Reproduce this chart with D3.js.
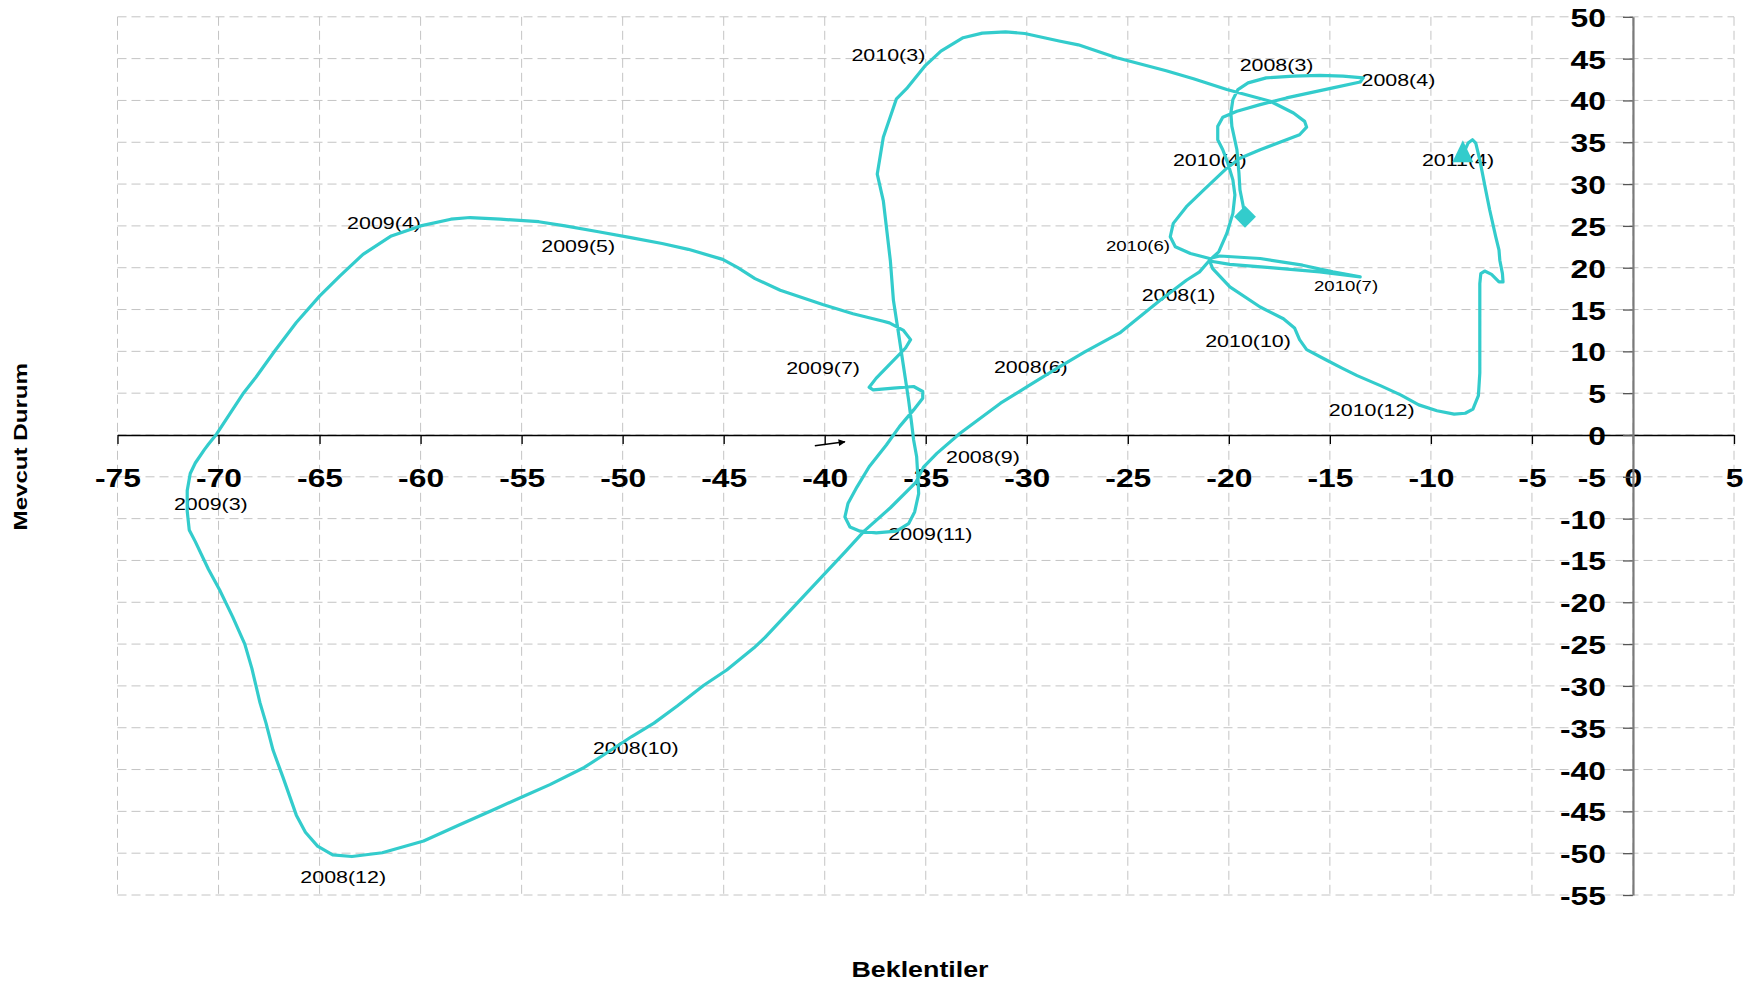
<!DOCTYPE html>
<html>
<head>
<meta charset="utf-8">
<script src="https://cdn.jsdelivr.net/npm/d3@7"></script>
<style>
  html, body { margin: 0; padding: 0; background: #ffffff; }
  svg { display: block; }
</style>
</head>
<body>
<svg id="chart" width="1753" height="986"></svg>
<script>
// Axis ticks
const xTickValues = d3.range(-75, 6, 5);
const yTickValues = d3.range(-55, 51, 5);

// Path through the months: x = Beklentiler, y = Mevcut Durum
const beklentiler = [
  -19.2, -19.3, -19.45, -19.5, -19.6, -19.85, -19.9, -19.8, -19.55, -19.05,
  -18.15, -16.8, -15.5, -14.35, -13.35, -13.5, -14.85, -16.0, -17.15, -18.45,
  -19.6, -20.3, -20.55, -20.55, -20.3, -20.05, -19.8, -19.7, -19.8, -20.1,
  -20.5, -20.95, -21.45, -22.1, -23.4, -25.4, -27.15, -28.55, -29.9, -31.3,
  -33.3, -34.45, -35.1, -35.5, -36.75, -38.05, -39.0, -39.95, -40.9, -42.0,
  -42.95, -43.5, -44.85, -46.0, -47.3, -48.45, -49.55, -51.1, -51.9, -53.6,
  -54.9, -56.25, -58.15, -59.85, -61.9, -63.4, -64.35, -65.1, -65.7, -66.15,
  -66.8, -67.3, -67.65, -67.95, -68.35, -68.7, -69.3, -69.95, -70.5, -71.15,
  -71.45, -71.55, -71.55, -71.4, -71.15, -70.7, -70.5, -70.1, -69.45, -68.8,
  -68.15, -67.2, -66.15, -65.0, -64.0, -62.85, -61.45, -60.0, -58.5, -57.55,
  -56.05, -54.15, -52.85, -51.2, -49.6, -48.05, -46.75, -45.05, -44.3, -43.45,
  -42.2, -40.1, -38.6, -37.1, -36.8, -36.1, -35.75, -36.0, -36.8, -37.45,
  -37.8, -37.6, -36.6, -35.6, -35.15, -35.15, -35.6, -36.3, -36.95, -37.8,
  -38.4, -38.85, -39.0, -38.75, -38.25, -37.45, -36.45, -35.85, -35.55, -35.35,
  -35.4, -35.45, -35.6, -35.7, -35.85, -36.1, -36.35, -36.6, -36.75, -37.1,
  -37.4, -37.1, -36.45, -35.95, -35.05, -34.25, -33.15, -32.2, -31.05, -30.1,
  -28.4, -27.45, -25.55, -23.1, -21.75, -20.1, -17.95, -16.8, -16.25, -16.15,
  -16.5, -17.15, -18.45, -19.45, -20.1, -21.2, -22.1, -22.75, -22.9, -22.65,
  -21.9, -20.95, -20.45, -18.45, -16.35, -14.85, -13.5, -15.5, -17.95, -19.95,
  -20.95, -20.8, -19.95, -18.45, -17.3, -16.75, -16.5, -16.15, -15.2, -14.4,
  -13.65, -12.5, -11.5, -10.6, -9.7, -8.85, -8.3, -7.92, -7.65, -7.58,
  -7.58, -7.58, -7.53, -7.34, -7.0, -6.63, -6.43, -6.46, -6.59, -6.63,
  -6.79, -7.09, -7.29, -7.58, -7.78, -7.94, -8.16, -8.42
];
const mevcutDurum = [
  26.1, 27.5, 29.3, 31.3, 34.1, 36.9, 38.5, 40.1, 41.3, 42.1,
  42.7, 42.9, 43.0, 42.9, 42.7, 42.2, 41.5, 40.9, 40.3, 39.5,
  38.7, 38.0, 36.9, 35.3, 34.1, 32.5, 30.5, 28.7, 26.5, 24.1,
  21.9, 20.9, 19.5, 18.5, 16.1, 12.2, 9.9, 7.9, 5.9, 3.8,
  0.2, -2.2, -3.8, -5.7, -8.7, -11.5, -14.0, -16.45, -18.9, -21.75,
  -24.2, -25.45, -28.1, -29.95, -32.4, -34.45, -36.05, -38.5, -39.75, -41.8,
  -43.2, -44.65, -46.7, -48.55, -49.95, -50.4, -50.2, -49.15, -47.5, -45.45,
  -41.0, -37.7, -34.45, -32.0, -27.9, -25.0, -21.75, -18.5, -16.05, -12.75,
  -11.35, -9.1, -6.65, -4.6, -3.35, -1.75, -1.1, 0.1, 2.5, 4.9,
  6.9, 10.1, 13.45, 16.6, 19.0, 21.6, 23.8, 25.0, 25.8, 26.0,
  25.8, 25.5, 25.0, 24.3, 23.6, 22.9, 22.2, 21.0, 20.0, 18.7,
  17.3, 15.6, 14.5, 13.6, 13.4, 12.5, 11.4, 10.4, 8.4, 6.8,
  5.7, 5.4, 5.6, 5.8, 5.2, 4.4, 3.0, 1.0, -1.2, -3.8,
  -6.2, -8.2, -9.8, -11.0, -11.5, -11.7, -11.5, -10.6, -9.2, -7.0,
  -4.6, -2.6, -0.6, 1.4, 4.2, 8.2, 12.2, 16.1, 20.8, 28.0,
  31.2, 35.6, 40.2, 41.4, 44.1, 45.9, 47.5, 48.05, 48.2, 48.0,
  47.1, 46.65, 45.1, 43.55, 42.6, 41.3, 39.9, 38.5, 37.5, 36.8,
  35.9, 35.3, 34.1, 33.1, 31.9, 29.4, 27.3, 25.3, 23.7, 22.5,
  21.7, 21.1, 21.4, 21.1, 20.3, 19.5, 18.9, 19.5, 20.0, 20.4,
  20.8, 19.9, 17.7, 15.3, 13.9, 12.8, 11.4, 10.2, 9.0, 8.0,
  7.1, 5.9, 4.8, 3.6, 2.9, 2.5, 2.6, 3.1, 4.7, 7.4,
  13.7, 18.1, 19.3, 19.6, 19.2, 18.3, 18.3, 19.3, 20.9, 22.1,
  23.7, 26.9, 29.3, 32.9, 34.9, 35.3, 34.9, 33.5
];

// Month annotations, placed in data units
const monthLabels = ["2008(1)", "2008(3)", "2008(4)", "2008(6)", "2008(9)", "2008(10)", "2008(12)",
  "2009(3)", "2009(4)", "2009(5)", "2009(7)", "2009(11)",
  "2010(3)", "2010(4)", "2010(6)", "2010(7)", "2010(10)", "2010(12)", "2011(4)"];
const monthLabelX = [-22.49, -17.64, -11.61, -29.8, -32.17, -49.35, -63.83,
  -70.38, -61.81, -52.2, -40.08, -34.77,
  -36.85, -20.94, -24.5, -14.2, -19.05, -12.93, -8.66];
const monthLabelY = [16.7, 44.15, 42.36, 8.1, -2.63, -37.45, -52.92,
  -8.35, 25.35, 22.55, 8.0, -11.87,
  45.35, 32.8, 22.6, 17.8, 11.15, 2.98, 32.8];
const smallLabels = ["2010(6)", "2010(7)"];

// Direction arrow (tail, head) in data units
const arrowFrom = [-40.49, -1.29];
const arrowTo = [-39.0, -0.81];

const svg = d3.select("#chart");
const W = 1753, H = 986;
svg.append("rect").attr("width", W).attr("height", H).attr("fill", "#ffffff");

const x = d3.scaleLinear().domain([-75, 5]).range([117.5, 1734]);
const y = d3.scaleLinear().domain([-55, 50]).range([895, 16.8]);

const FONT = "'Liberation Sans', Arial, Helvetica, sans-serif";
const TEAL = "#33cccc";

// Text drawn wider than the font's natural proportions
function wideText(parent, px, py, str, opts) {
  const o = Object.assign({ size: 17, weight: "normal", stretch: 1.25, anchor: "middle", rotate: 0 }, opts);
  let tf = `translate(${px},${py})`;
  if (o.rotate) tf += ` rotate(${o.rotate})`;
  tf += ` scale(${o.stretch},1)`;
  return parent.append("text")
    .attr("transform", tf)
    .attr("text-anchor", o.anchor)
    .attr("font-family", FONT)
    .attr("font-size", o.size)
    .attr("font-weight", o.weight)
    .attr("fill", "#000")
    .text(str);
}

// Dashed grid
const grid = svg.append("g").attr("stroke", "#c4c4c4").attr("stroke-width", 1)
  .attr("stroke-dasharray", "9,5").attr("fill", "none");
grid.selectAll("line.v").data(xTickValues).join("line").attr("class", "v")
  .attr("x1", d => x(d)).attr("x2", d => x(d))
  .attr("y1", y(50)).attr("y2", y(-55));
grid.selectAll("line.h").data(yTickValues).join("line").attr("class", "h")
  .attr("x1", x(-75)).attr("x2", x(5))
  .attr("y1", d => y(d)).attr("y2", d => y(d));

// X axis along y = 0
const xAxisG = svg.append("g").attr("transform", `translate(0,${y(0)})`)
  .call(d3.axisBottom(x).tickValues(xTickValues).tickSize(9).tickSizeOuter(0).tickFormat(""));
xAxisG.select(".domain").attr("stroke", "#000").attr("stroke-width", 1.6);
xAxisG.selectAll(".tick line").attr("stroke", "#000").attr("stroke-width", 1.3);
xAxisG.selectAll(".tick").each(function (d) {
  wideText(d3.select(this), 0, 52.5, String(d), { size: 26.5, weight: "bold", stretch: 1.2 });
});

// Y axis along x = 0
const yAxisG = svg.append("g").attr("transform", `translate(${x(0)},0)`)
  .call(d3.axisLeft(y).tickValues(yTickValues).tickSize(10).tickSizeOuter(0).tickFormat(""));
yAxisG.selectAll(".tick").each(function (d) {
  wideText(d3.select(this), -27, 9.5, String(d), { size: 26.5, weight: "bold", stretch: 1.2, anchor: "end" });
});
yAxisG.select(".domain").attr("stroke", "#7a7a7a").attr("stroke-width", 2.2).raise();
yAxisG.selectAll(".tick line").attr("stroke", "#555").attr("stroke-width", 1.3);

// Axis titles
wideText(svg, 920, 977, "Beklentiler", { size: 22, weight: "bold", stretch: 1.22 });
wideText(svg, 26.5, 446.7, "Mevcut Durum", { size: 19, weight: "bold", stretch: 1.27, rotate: -90 });

// Month labels
const labelG = svg.append("g");
monthLabels.forEach((t, i) => {
  const small = smallLabels.includes(t);
  const fs = small ? 15.5 : 17;
  wideText(labelG, x(monthLabelX[i]), y(monthLabelY[i]) + fs * 0.33, t,
    { size: fs, stretch: small ? 1.2 : 1.26 });
});

// Direction arrow
svg.append("defs").append("marker")
  .attr("id", "arrowHead").attr("viewBox", "0 0 10 10")
  .attr("refX", 9).attr("refY", 5).attr("markerWidth", 9).attr("markerHeight", 7)
  .attr("markerUnits", "userSpaceOnUse").attr("orient", "auto")
  .append("path").attr("d", "M0,0 L10,5 L0,10 Z").attr("fill", "#000");
svg.append("line")
  .attr("x1", x(arrowFrom[0])).attr("y1", y(arrowFrom[1]))
  .attr("x2", x(arrowTo[0])).attr("y2", y(arrowTo[1]))
  .attr("stroke", "#000").attr("stroke-width", 1.6)
  .attr("marker-end", "url(#arrowHead)");

// The path itself
const pts = beklentiler.map((v, i) => [v, mevcutDurum[i]]);
const line = d3.line().x(d => x(d[0])).y(d => y(d[1])).curve(d3.curveLinear);
svg.append("path").datum(pts)
  .attr("d", line)
  .attr("fill", "none").attr("stroke", TEAL).attr("stroke-width", 3.2)
  .attr("stroke-linejoin", "round").attr("stroke-linecap", "round");

// Start marker (diamond) and end marker (triangle)
const first = pts[0], last = pts[pts.length - 1];
svg.append("path")
  .attr("d", d3.symbol(d3.symbolSquare, 240)())
  .attr("transform", `translate(${x(first[0])},${y(first[1])}) rotate(45)`)
  .attr("fill", TEAL);
svg.append("path")
  .attr("d", "M0,-14.5 L10.5,7.5 L-10.5,7.5 Z")
  .attr("transform", `translate(${x(last[0])},${y(last[1])})`)
  .attr("fill", TEAL);
</script>
</body>
</html>
